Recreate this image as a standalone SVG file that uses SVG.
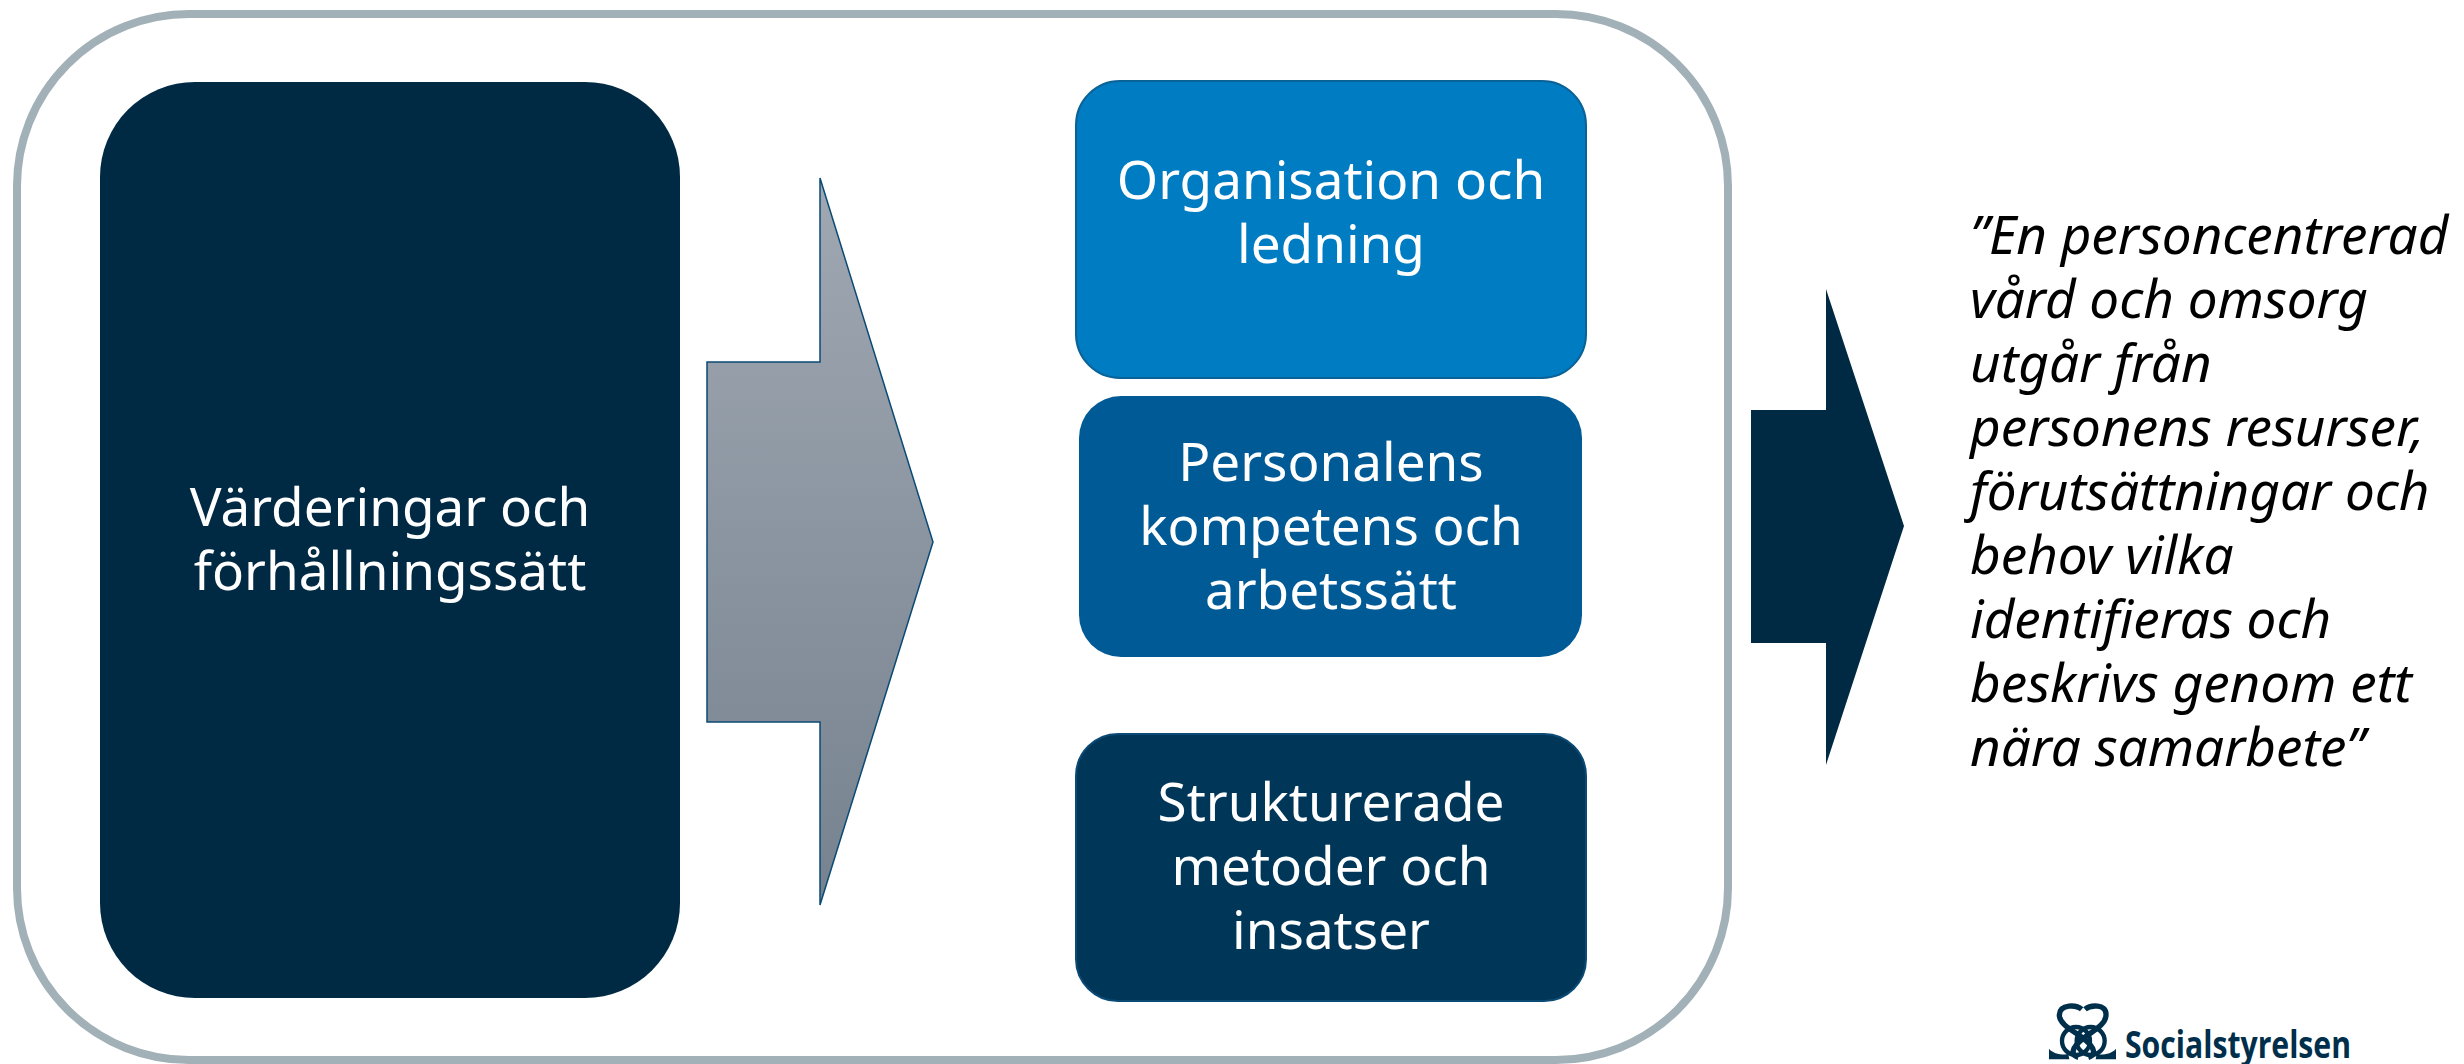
<svg xmlns="http://www.w3.org/2000/svg" width="2464" height="1064" viewBox="0 0 2464 1064">
<style>
.t{font-family:"Noto Sans","Open Sans",sans-serif;font-size:53px;fill:#fff;text-anchor:middle}
.q{font-family:"Noto Sans","Open Sans",sans-serif;font-size:53px;font-style:italic;fill:#000}
.m{fill:none;stroke:#002f4b;stroke-width:12}
</style>
<defs><linearGradient id="g" x1="0" y1="0" x2="0" y2="1"><stop offset="0" stop-color="#a0a8b2"/><stop offset="1" stop-color="#76828f"/></linearGradient></defs>
<rect width="2464" height="1064" fill="#fff"/>
<g id="frame"><rect x="17" y="14" width="1711" height="1046" rx="172" fill="#fff" stroke="#a2b1b7" stroke-width="8"/></g>
<g id="values"><rect x="100" y="82" width="580" height="916" rx="95" fill="#002a43"/>
<text class="t" x="390" y="526">Värderingar och</text><text class="t" x="390" y="590">förhållningssätt</text></g>
<g id="connectors">
<polygon points="707,362 820,362 820,178 933,542 820,905 820,722 707,722" fill="url(#g)" stroke="#0b4a75" stroke-width="1.5"/>
<polygon points="1751,410 1826,410 1826,289 1904,526 1826,765 1826,643 1751,643" fill="#002a43"/>
</g>
<g id="org"><rect x="1076" y="81" width="510" height="297" rx="44" fill="#007cc2" stroke="#0a6297" stroke-width="2"/>
<text class="t" x="1331" y="199">Organisation och</text><text class="t" x="1331" y="263">ledning</text></g>
<g id="staff"><rect x="1079" y="396" width="503" height="261" rx="42" fill="#005a96"/>
<text class="t" x="1331" y="481">Personalens</text><text class="t" x="1331" y="545">kompetens och</text><text class="t" x="1331" y="609">arbetssätt</text></g>
<g id="methods"><rect x="1076" y="734" width="510" height="267" rx="42" fill="#003658" stroke="#0b4a75" stroke-width="2"/>
<text class="t" x="1331" y="821">Strukturerade</text><text class="t" x="1331" y="885">metoder och</text><text class="t" x="1331" y="949">insatser</text></g>
<g id="quote">
<text class="q" x="1970" y="254">”En personcentrerad</text>
<text class="q" x="1970" y="318">vård och omsorg</text>
<text class="q" x="1970" y="382">utgår från</text>
<text class="q" x="1970" y="446">personens resurser,</text>
<text class="q" x="1970" y="510">förutsättningar och</text>
<text class="q" x="1970" y="574">behov vilka</text>
<text class="q" x="1970" y="638">identifieras och</text>
<text class="q" x="1970" y="702">beskrivs genom ett</text>
<text class="q" x="1970" y="766">nära samarbete”</text>
</g>
<g id="logo">
<g transform="translate(1980 960) scale(.3333)">
<path class="m" style="stroke-width:16" d="M305 148C290 135 240 130 238 165C238 195 285 215 310 235C345 262 350 285 325 292"/>
<path class="m" style="stroke-width:16" d="M315 148C330 135 380 130 378 165C378 195 335 215 310 235C275 262 270 285 295 292"/>
<circle class="m" cx="288" cy="243" r="42" style="stroke-width:13"/>
<circle class="m" cx="332" cy="243" r="42" style="stroke-width:13"/>
<path d="M207 266C218 280 240 285 265 283L268 298H207ZM408 266C397 280 375 285 350 283L347 298H408Z" fill="#002f4b"/>
</g>
<text x="2125" y="1058" font-family="'Open Sans',sans-serif" font-weight="700" font-size="37" fill="#002f4b" textLength="226" lengthAdjust="spacingAndGlyphs">Socialstyrelsen</text>
</g>
</svg>
